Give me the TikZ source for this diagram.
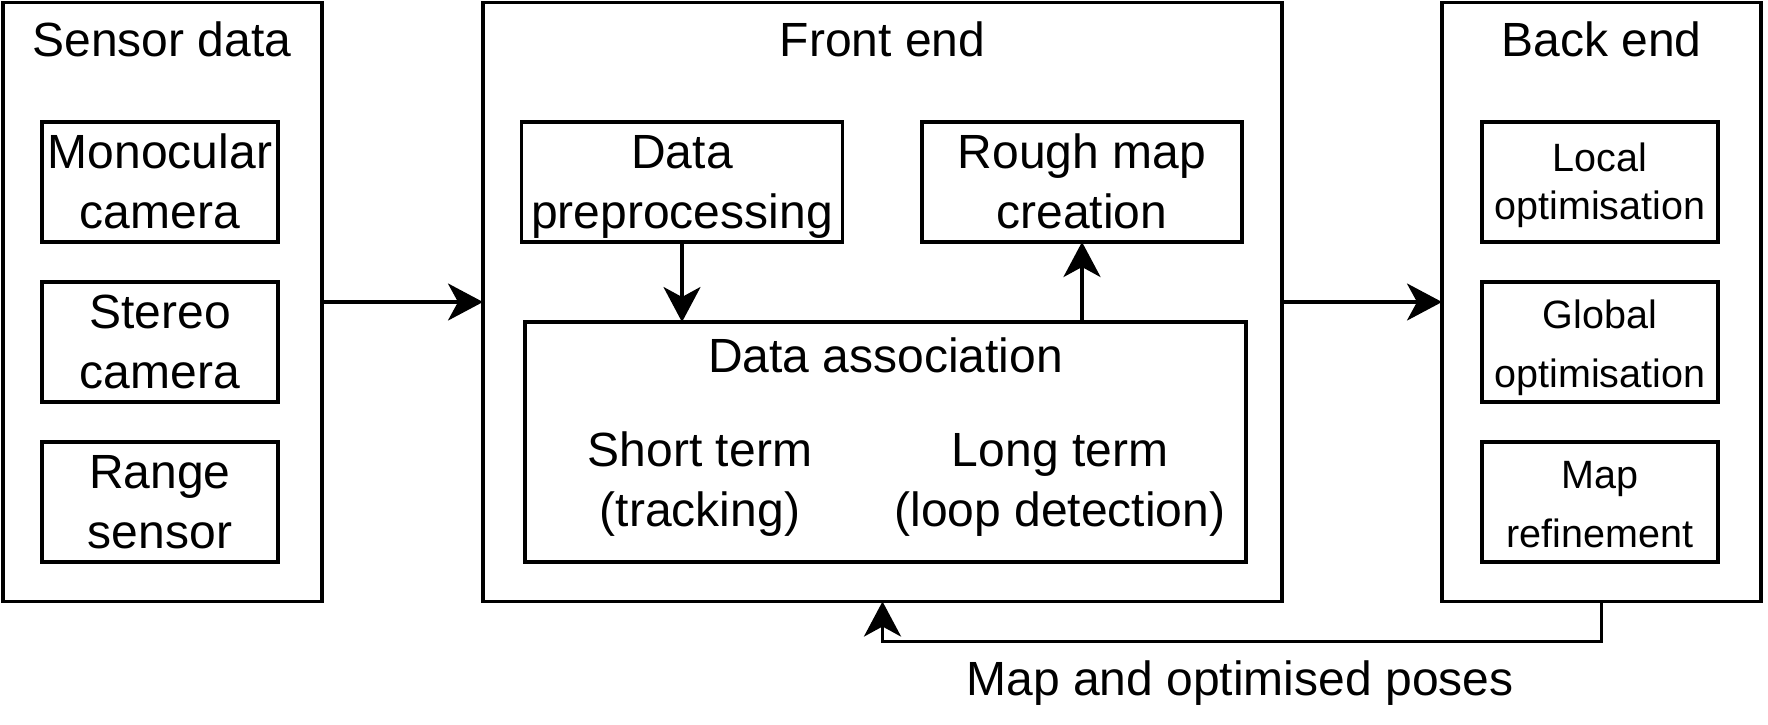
\documentclass[tikz,border=0pt]{standalone}
\usepackage{fontspec}
\setmainfont{Liberation Sans}
\usetikzlibrary{arrows.meta}
\newcommand\twol[4]{\rule{0pt}{#1}#3\\#4\rule[-#2]{0pt}{#2}}
\begin{document}
\begin{tikzpicture}[x=1pt,y=-1pt,
  box/.style={draw, line width=3.6pt, rectangle, inner sep=0pt, outer sep=0pt, align=center},
  bigf/.style={font=\fontsize{48}{60}\selectfont},
  smallf/.style={font=\fontsize{39.5}{48}\selectfont},
  smallg/.style={font=\fontsize{39.5}{59}\selectfont},
  conn/.style={line width=3.6pt, -{Stealth[length=35pt,width=37pt,inset=10pt]}},
  outer/.style={box, minimum width=319pt, minimum height=599pt},
  inbox/.style={box, minimum width=236pt, minimum height=120pt},
]
\fill[white] (0,0) rectangle (1768,724);
\useasboundingbox (0,0) rectangle (1768,724);

% outer containers
\node[outer] (sd) at (162.25,302) {};
\node[box, minimum width=799pt, minimum height=599pt] (fe) at (882.5,302) {};
\node[outer] (be) at (1601.5,302) {};

% titles
\node[bigf, anchor=base] (sdt) at (162,56) {Sensor data};
\node[bigf, anchor=base] (fet) at (882.5,56) {Front end};
\node[bigf, anchor=base] (bet) at (1601.5,56) {Back end};

% sensor data boxes
\node[inbox, bigf] (mono) at (160,182) {\twol{43pt}{11pt}{Monocular}{camera}};
\node[inbox, bigf] (stereo) at (160,342) {\twol{43pt}{11pt}{Stereo}{camera}};
\node[inbox, bigf] (range) at (160,502) {\twol{43pt}{11pt}{Range}{sensor}};

% front end boxes
\node[box, bigf, minimum width=321pt, minimum height=120pt] (pre) at (682,182) {\twol{43pt}{11pt}{Data}{preprocessing}};
\node[box, bigf, minimum width=320pt, minimum height=120pt] (rough) at (1082,182) {\twol{43pt}{11pt}{Rough map}{creation}};
\node[box, minimum width=721pt, minimum height=240pt] (da) at (885.5,442) {};
\node[bigf, anchor=base] (dat) at (885.5,372) {Data association};
\node[bigf, align=center] (st) at (700,480.7) {\twol{43pt}{11pt}{Short term}{(tracking)}};
\node[bigf, align=center] (lt) at (1060,480.7) {\twol{43pt}{11pt}{Long term}{(loop detection)}};

% back end boxes
\node[inbox, smallf] (loc) at (1600,182) {\twol{36.4pt}{9pt}{Local}{optimisation}};
\node[inbox, smallg] (glob) at (1600,342) {\twol{40pt}{9pt}{Global}{optimisation}};
\node[inbox, smallg] (mapr) at (1600,502) {\twol{40pt}{9pt}{Map}{refinement}};

% connectors
\draw[conn] (sd) -- (fe);
\draw[conn] (fe) -- (be);
\draw[conn] (pre.south) -- (pre.south |- da.north);
\draw[conn] (rough.south |- da.north) -- (rough.south);
\draw[conn] (be.south) -- ++(0,40) -| (fe.south);
\node[bigf, anchor=base] (fbl) at (1240,695) {Map and optimised poses};
\end{tikzpicture}
\end{document}
